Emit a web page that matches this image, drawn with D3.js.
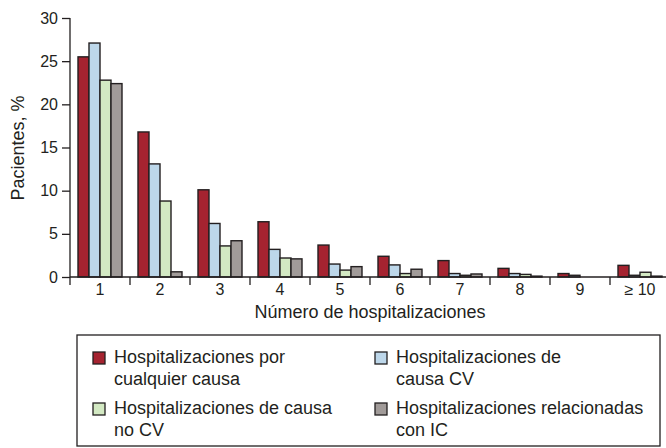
<!DOCTYPE html>
<html>
<head>
<meta charset="utf-8">
<script src="https://cdn.jsdelivr.net/npm/d3@7"></script>
<style>
  body { margin: 0; background: #fff; }
  text { font-family: "Liberation Sans", Arial, sans-serif; fill: #231f20; }
</style>
</head>
<body>
<svg width="666" height="448"></svg>
<script>
var categories = ["1", "2", "3", "4", "5", "6", "7", "8", "9", "\u2265 10"];
var seriesNames = ["cualquier", "cv", "nocv", "ic"];
var anyCause = [25.5, 16.8, 10.1, 6.4, 3.7, 2.4, 1.9, 1.0, 0.4, 1.35];
var cvCause = [27.1, 13.1, 6.2, 3.2, 1.5, 1.4, 0.4, 0.4, 0.2, 0.2];
var nonCvCause = [22.8, 8.8, 3.6, 2.2, 0.8, 0.4, 0.2, 0.3, 0.0, 0.55];
var hfRelated = [22.4, 0.6, 4.2, 2.1, 1.2, 0.9, 0.35, 0.1, 0.0, 0.1];
var yTicks = [0, 5, 10, 15, 20, 25, 30];
var legendLabels = [
  ["Hospitalizaciones por", "cualquier causa"],
  ["Hospitalizaciones de", "causa CV"],
  ["Hospitalizaciones de causa", "no CV"],
  ["Hospitalizaciones relacionadas", "con IC"]
];
var colors = ["#a52330", "#bdd7ea", "#d3e9c3", "#a19b99"];

var allSeries = [anyCause, cvCause, nonCvCause, hfRelated];

var svg = d3.select("svg");
var x0 = 70, x1 = 670, yTop = 18, yBottom = 277;

var x = d3.scaleBand().domain(categories).range([x0, x1]).paddingInner(0).paddingOuter(0);
var xs = d3.scaleBand().domain(seriesNames).range([8, 52]);
var y = d3.scaleLinear().domain([0, 30]).range([yBottom, yTop]);

// bars
var groups = svg.append("g")
  .selectAll("g")
  .data(categories)
  .enter().append("g")
    .attr("transform", function(d) { return "translate(" + x(d) + ",0)"; });

groups.selectAll("rect")
  .data(function(d, i) {
    return seriesNames.map(function(s, j) { return { key: s, j: j, value: allSeries[j][i] }; });
  })
  .enter().append("rect")
    .filter(function(d) { return d.value > 0; })
    .attr("x", function(d) { return xs(d.key); })
    .attr("width", xs.bandwidth())
    .attr("y", function(d) { return y(d.value); })
    .attr("height", function(d) { return yBottom - y(d.value); })
    .attr("fill", function(d) { return colors[d.j]; })
    .attr("stroke", "#231f20")
    .attr("stroke-width", 1.4);

// y axis
var yAxis = svg.append("g")
  .attr("transform", "translate(" + x0 + ",0)")
  .call(d3.axisLeft(y).tickValues(yTicks).tickSize(8).tickPadding(4));
yAxis.select(".domain").attr("stroke", "#231f20").attr("stroke-width", 1.3)
  .attr("d", "M0," + yTop + "V" + (yBottom + 8));
yAxis.selectAll(".tick line").attr("stroke", "#231f20").attr("stroke-width", 1.3);
yAxis.selectAll(".tick text").style("font-size", "16px").style("font-family", "Liberation Sans, Arial, sans-serif").attr("fill", "#231f20");

// x axis
var xAxis = svg.append("g")
  .attr("transform", "translate(0," + yBottom + ")")
  .call(d3.axisBottom(x).tickSize(0).tickPadding(7));
xAxis.select(".domain").attr("stroke", "#231f20").attr("stroke-width", 1.3)
  .attr("d", "M" + x0 + ",0H" + x1);
xAxis.selectAll(".tick text").style("font-size", "16px").style("font-family", "Liberation Sans, Arial, sans-serif").attr("fill", "#231f20");
xAxis.selectAll(".sep")
  .data(categories)
  .enter().append("line")
    .attr("x1", function(d) { return x(d) + x.bandwidth(); })
    .attr("x2", function(d) { return x(d) + x.bandwidth(); })
    .attr("y1", 0).attr("y2", 8)
    .attr("stroke", "#231f20").attr("stroke-width", 1.3);

// axis titles
svg.append("text")
  .attr("transform", "translate(24,148) rotate(-90)")
  .attr("text-anchor", "middle")
  .style("font-size", "18px")
  .text("Pacientes, %");

svg.append("text")
  .attr("x", 370).attr("y", 318)
  .attr("text-anchor", "middle")
  .style("font-size", "18px")
  .text("N\u00famero de hospitalizaciones");

// legend
svg.append("rect")
  .attr("x", 77).attr("y", 335).attr("width", 583).attr("height", 111)
  .attr("fill", "none").attr("stroke", "#231f20").attr("stroke-width", 1.3);

var legendPos = [[93, 352], [375, 352], [93, 403], [375, 403]];
var leg = svg.append("g").selectAll("g")
  .data(legendLabels)
  .enter().append("g")
    .attr("transform", function(d, i) { return "translate(" + legendPos[i][0] + "," + legendPos[i][1] + ")"; });

leg.append("rect")
  .attr("width", 12).attr("height", 12)
  .attr("fill", function(d, i) { return colors[i]; })
  .attr("stroke", "#231f20").attr("stroke-width", 1.3);

leg.append("text")
  .attr("x", 21).attr("y", 11)
  .style("font-size", "18px")
  .text(function(d) { return d[0]; });

leg.append("text")
  .attr("x", 21).attr("y", 33)
  .style("font-size", "18px")
  .text(function(d) { return d[1]; });
</script>
</body>
</html>
